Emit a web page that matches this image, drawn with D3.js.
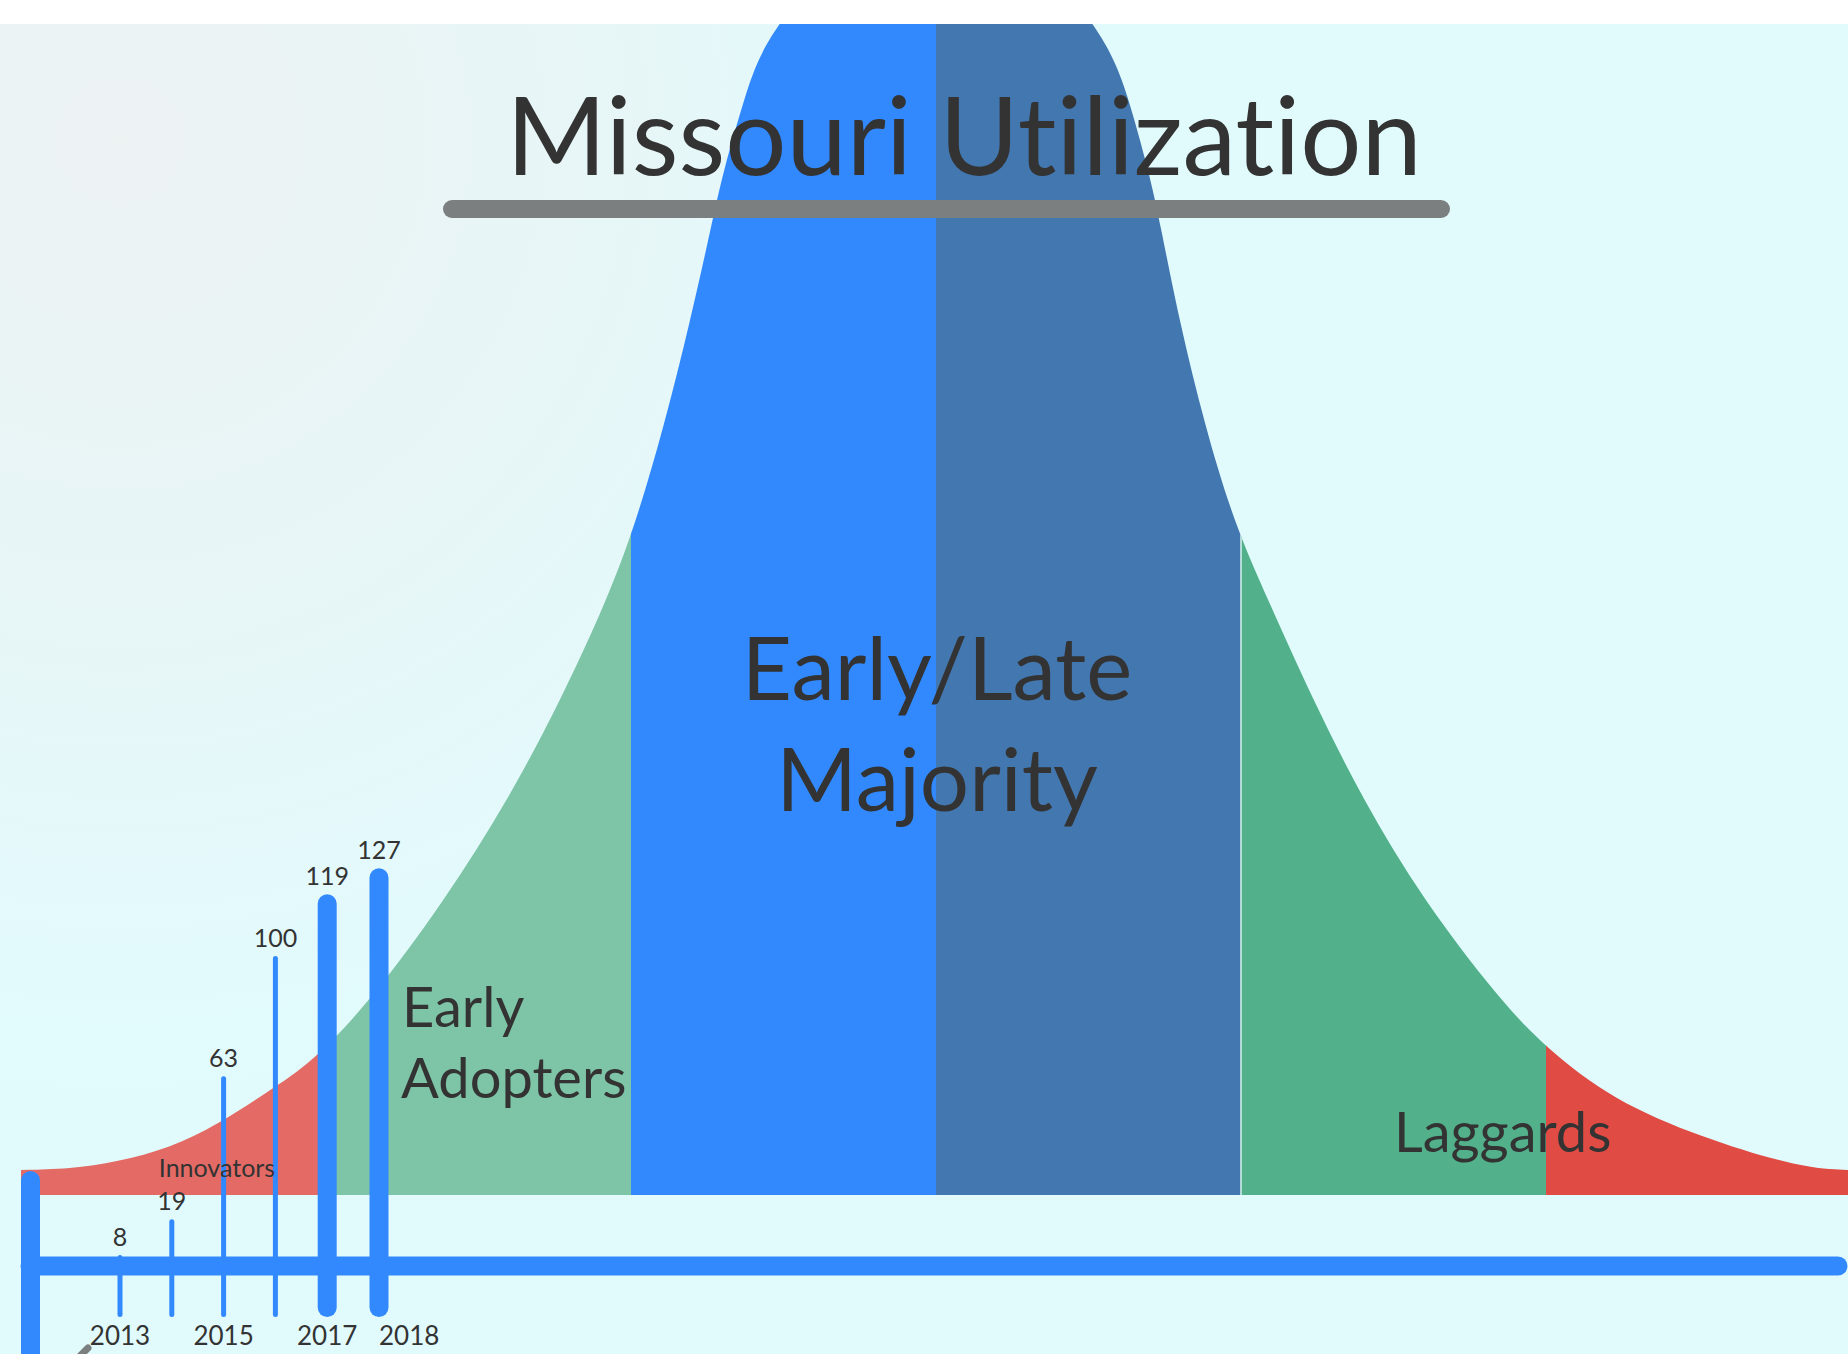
<!DOCTYPE html>
<html>
<head>
<meta charset="utf-8">
<script src="https://cdn.jsdelivr.net/npm/d3@7"></script>
<style>
  html, body { margin: 0; padding: 0; background: #fff; }
  svg { display: block; }
  text { font-family: Lato, "Open Sans", sans-serif; fill: #333; font-variant-ligatures: none; }
</style>
</head>
<body>
<svg id="chart" width="1848" height="1354"></svg>
<script>
// Adoption curve:
// position in std-devs from the mean, height in curve units (0 = baseline)
const curvePos = [-3.0, -2.84, -2.685, -2.511, -2.357, -2.193, -2.046, -1.852, -1.61, -1.403, -1.23,
  -1.079, -0.985, -0.89, -0.808, -0.735, -0.70, -0.622, -0.58, -0.518, -0.33, 0,
  0.33, 0.518, 0.58, 0.625, 0.70, 0.735, 0.80, 0.88, 0.978, 1.089, 1.236, 1.4, 1.597, 1.849,
  2.003, 2.22, 2.505, 2.833, 3.0];
const curveHeight = [2.5, 2.6, 3.3, 4.7, 7.0, 10.3, 13.2, 19.5, 29.5, 39.5, 49.5,
  59.5, 67.1, 77.1, 87.1, 97.1, 102.1, 110.4, 113.8, 117.1, 124.5, 129.5,
  124.5, 117.1, 113.8, 110.4, 102.1, 97.1, 87.1, 77.1, 67.1, 59.5, 49.5, 39.5, 29.5, 19.5,
  14.6, 9.5, 5.8, 2.7, 2.5];

// adopter groups
const segmentNames = ["Innovators", "Early Adopters", "Early Majority", "Late Majority", "Laggards", "Laggards (tail)"];
const segmentBounds = [-3, -2, -1, 0, 1, 2, 3];
const segmentColors = ["#e46b65", "#7ec4a7", "#3289fe", "#4377af", "#52b18a", "#e04b43"];

// Missouri counts per year
const years = [2013, 2014, 2015, 2016, 2017, 2018];
const counts = [8, 19, 63, 100, 119, 127];
const yearLabels = [2013, 2015, 2017, 2018];

const title = "Missouri Utilization";

const width = 1848, height = 1354;
const svg = d3.select("#chart");
const defs = svg.append("defs");

// soft background, greyer in the upper left
const bg = defs.append("radialGradient")
  .attr("id", "bgGrad")
  .attr("gradientUnits", "userSpaceOnUse")
  .attr("cx", 120).attr("cy", 140).attr("r", 950);
bg.append("stop").attr("offset", 0).attr("stop-color", "#edf2f3");
bg.append("stop").attr("offset", 0.5).attr("stop-color", "#e7f6f7");
bg.append("stop").attr("offset", 1).attr("stop-color", "#e1fbfd");

svg.append("rect")
  .attr("x", 0).attr("y", 24)
  .attr("width", width).attr("height", height - 24)
  .attr("fill", "url(#bgGrad)");

defs.append("clipPath").attr("id", "page")
  .append("rect")
  .attr("x", 0).attr("y", 24)
  .attr("width", width).attr("height", height - 24);

// scales for the bell curve
const x = d3.scaleLinear().domain([-3, 3]).range([21, 1851]);
const y = d3.scaleLinear().domain([0, 100]).range([1195, 195]);

const profile = curvePos.map((p, i) => [p, curveHeight[i]]);
const area = d3.area()
  .x(d => x(d[0]))
  .y0(y(0))
  .y1(d => y(d[1]))
  .curve(d3.curveBasis);

defs.append("clipPath").attr("id", "bell")
  .append("path")
  .attr("d", area(profile));

const page = svg.append("g").attr("clip-path", "url(#page)");

// coloured groups, cut out by the curve
const bell = page.append("g").attr("clip-path", "url(#bell)");
bell.selectAll("rect")
  .data(segmentNames)
  .join("rect")
    .attr("x", (d, i) => x(segmentBounds[i]))
    .attr("width", (d, i) => x(segmentBounds[i + 1]) - x(segmentBounds[i]) + 0.5)
    .attr("y", 0)
    .attr("height", y(0))
    .attr("fill", (d, i) => segmentColors[i]);

// faint seam between late majority and laggards
bell.append("line")
  .attr("x1", x(1)).attr("x2", x(1))
  .attr("y1", 0).attr("y2", y(0))
  .attr("stroke", "#d8f3ee")
  .attr("stroke-width", 1.5);

// title and underline
page.append("line")
  .attr("x1", 452).attr("x2", 1441)
  .attr("y1", 209).attr("y2", 209)
  .attr("stroke", "#7b7f80")
  .attr("stroke-width", 18)
  .attr("stroke-linecap", "round");

page.append("text")
  .attr("x", 964).attr("y", 175)
  .attr("text-anchor", "middle")
  .attr("font-size", 108)
  .text(title);

// group labels
page.append("text")
  .attr("x", 937).attr("y", 700)
  .attr("text-anchor", "middle")
  .attr("font-size", 87)
  .text("Early/Late");
page.append("text")
  .attr("x", 937).attr("y", 811)
  .attr("text-anchor", "middle")
  .attr("font-size", 87)
  .text("Majority");

// timeline of yearly counts
const xYear = d3.scaleLinear().domain([2013, 2018]).range([120, 379]);
const yCount = d3.scaleLinear().domain([0, 130]).range([1281, 858.5]);
const axisY = 1266, barBottom = 1317;
const barColor = "#3289fe";

page.append("line")
  .attr("x1", 30).attr("x2", 1838)
  .attr("y1", axisY).attr("y2", axisY)
  .attr("stroke", barColor)
  .attr("stroke-width", 19)
  .attr("stroke-linecap", "round");

page.append("line")
  .attr("x1", 30.5).attr("x2", 30.5)
  .attr("y1", 1180.5).attr("y2", 1420)
  .attr("stroke", barColor)
  .attr("stroke-width", 19)
  .attr("stroke-linecap", "round");

const barW = v => v > 100 ? 19 : 5;

page.append("g")
  .selectAll("line")
  .data(counts)
  .join("line")
    .attr("x1", (d, i) => xYear(years[i]))
    .attr("x2", (d, i) => xYear(years[i]))
    .attr("y1", d => yCount(d) + barW(d) / 2)
    .attr("y2", d => barBottom - barW(d) / 2)
    .attr("stroke", barColor)
    .attr("stroke-width", d => barW(d))
    .attr("stroke-linecap", "round");

page.append("g")
  .selectAll("text")
  .data(counts)
  .join("text")
    .attr("x", (d, i) => xYear(years[i]))
    .attr("y", d => yCount(d) - 9)
    .attr("text-anchor", "middle")
    .attr("font-size", 25)
    .text(d => d);

// last year label hangs to the right of its bar, as in the original
const lastYear = yearLabels[yearLabels.length - 1];
page.append("g")
  .selectAll("text")
  .data(yearLabels)
  .join("text")
    .attr("x", d => xYear(d))
    .attr("y", 1345)
    .attr("text-anchor", d => d === lastYear ? "start" : "middle")
    .attr("font-size", 26)
    .text(d => d);

// cut-off grey marker at the bottom edge
page.append("line")
  .attr("x1", 88).attr("x2", 68)
  .attr("y1", 1348).attr("y2", 1368)
  .attr("stroke", "#7b7f80")
  .attr("stroke-width", 7)
  .attr("stroke-linecap", "round");

// labels sitting on top of the bars
page.append("text")
  .attr("x", 217).attr("y", 1177)
  .attr("text-anchor", "middle")
  .attr("font-size", 25)
  .text("Innovators");

page.append("text")
  .attr("x", 402).attr("y", 1027)
  .attr("font-size", 56)
  .text("Early");
page.append("text")
  .attr("x", 401).attr("y", 1098)
  .attr("font-size", 56)
  .text("Adopters");

page.append("text")
  .attr("x", 1394).attr("y", 1152)
  .attr("font-size", 56)
  .text("Laggards");
</script>
</body>
</html>
